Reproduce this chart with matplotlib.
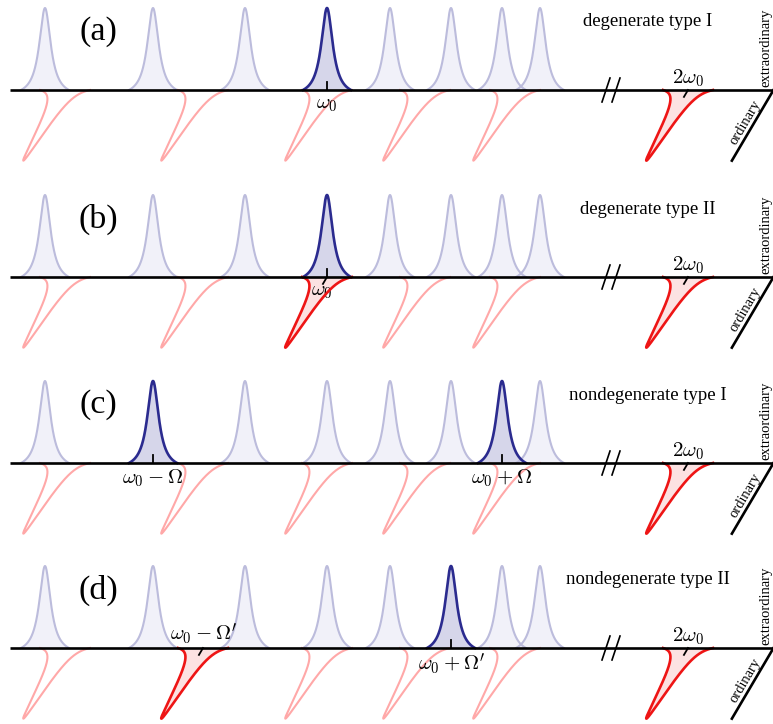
import numpy as np
import matplotlib
matplotlib.use("Agg")
import matplotlib.pyplot as plt

plt.rcParams['mathtext.fontset'] = 'cm'
SERIF = ['Liberation Serif', 'DejaVu Serif']

# Cavity mode frequencies (arbitrary units along the frequency axis)
extraordinary_modes = [45, 153, 245, 327, 390, 451, 502, 540]
ordinary_modes = [65, 203, 327, 425, 515]
second_harmonic = 688

panel_tags = ['(a)', '(b)', '(c)', '(d)']
panel_titles = ['degenerate type I', 'degenerate type II',
                'nondegenerate type I', 'nondegenerate type II']
# indices of the modes that take part in the process in each panel
active_e = [[3], [3], [1, 6], [5]]
active_o = [[], [2], [], [1]]
# (label, polarisation, mode index, side of the axis)
mode_labels = [
    [(r'$\omega_0$', 'e', 3, 'below')],
    [(r'$\omega_0$', 'e', 3, 'below')],
    [(r'$\omega_0-\Omega$', 'e', 1, 'below'), (r'$\omega_0+\Omega$', 'e', 6, 'below')],
    [(r'$\omega_0-\Omega^{\prime}$', 'o', 1, 'above'), (r'$\omega_0+\Omega^{\prime}$', 'e', 5, 'below')],
]

# drawing geometry (pixel-like units)
W, H = 773, 724
baselines = [90, 277, 463, 648]
ABOVE, BELOW = 92, 94
AMP = 82.0                 # peak amplitude along each polarisation axis
GAMMA_E, HALF_E = 7.0, 24.0
GAMMA_O, HALF_O = 5.5, 25.0
THETA = np.deg2rad(59.5)   # direction of the ordinary axis (drawn obliquely)
CT, ST = np.cos(THETA), np.sin(THETA)

PALE_E, PALE_E_FILL = '#bcbcdc', '#ededf7'
DARK_E, DARK_E_FILL = '#2b2b8f', '#d6d6ea'
PALE_O = '#ffa8a8'
DARK_O, DARK_O_FILL = '#ee1515', '#fce2e2'
FS_MATH = 15


def profile(u, gamma, half):
    lor = gamma**2 / (u**2 + gamma**2)
    base = gamma**2 / (half**2 + gamma**2)
    return (lor - base) / (1 - base)


ue = np.linspace(-HALF_E, HALF_E, 600)
pe = profile(ue, GAMMA_E, HALF_E)
uo = np.linspace(-HALF_O, HALF_O, 600)
po = profile(uo, GAMMA_O, HALF_O)

fig = plt.figure(figsize=(W / 100, H / 100), dpi=100)

for k, b in enumerate(baselines):
    ax = fig.add_axes([0, (H - (b + BELOW)) / H, 1, (ABOVE + BELOW) / H])
    ax.set_xlim(0, W)
    ax.set_ylim(-BELOW, ABOVE)
    ax.axis('off')

    # extraordinary modes: upright peaks
    for i, f0 in enumerate(extraordinary_modes):
        x = f0 + ue
        y = AMP * pe
        if i in active_e[k]:
            ax.fill(x, y, color=DARK_E_FILL, lw=0, zorder=2)
            ax.plot(x, y, color=DARK_E, lw=1.9, zorder=4)
        else:
            ax.fill(x, y, color=PALE_E_FILL, alpha=0.75, lw=0, zorder=1)
            ax.plot(x, y, color=PALE_E, lw=1.5, zorder=3)

    # ordinary modes: peaks along the oblique axis
    o_freqs = list(ordinary_modes) + [second_harmonic]
    for i, f0 in enumerate(o_freqs):
        x = f0 + uo - AMP * po * CT
        y = -AMP * po * ST
        active = (i in active_o[k]) or (f0 == second_harmonic)
        if active:
            ax.fill(x, y, color=DARK_O_FILL, lw=0, zorder=2)
            ax.plot(x, y, color=DARK_O, lw=1.9, zorder=4)
            ax.plot([f0, f0 - 8 * CT], [0, -8 * ST], color='black', lw=1.3, zorder=6)
        else:
            ax.plot(x, y, color=PALE_O, lw=1.5, zorder=3)

    for i in active_e[k]:
        f0 = extraordinary_modes[i]
        ax.plot([f0, f0], [0, 8], color='black', lw=1.3, zorder=6)

    # frequency axis with a break
    ax.plot([10, W + 2], [0, 0], color='black', lw=1.9, zorder=5, solid_capstyle='butt')
    for xb in (606, 616):
        ax.plot([xb - 4, xb + 4], [-12, 12], color='black', lw=1.2, zorder=6)

    # polarisation axes
    ax.plot([W + 0.5, W + 0.5 - AMP * CT], [0, -AMP * ST], color='black', lw=1.9,
            zorder=6, clip_on=False)
    ax.text(765.5, 3, 'extraordinary', rotation=90, ha='center', va='bottom',
            family=SERIF, fontsize=10.5)
    ax.text(745, -32, 'ordinary', rotation=np.rad2deg(THETA), ha='center', va='center',
            family=SERIF, fontsize=10.5, rotation_mode='anchor')

    # labels
    ax.text(98, 58, panel_tags[k], ha='center', va='center', family=SERIF, fontsize=24.5)
    ax.text(648, 68, panel_titles[k], ha='center', va='center', family=SERIF, fontsize=13.5)
    ax.text(second_harmonic, 1, r'$2\omega_0$', ha='center', va='bottom', fontsize=FS_MATH)

    for text, pol, idx, side in mode_labels[k]:
        f0 = extraordinary_modes[idx] if pol == 'e' else ordinary_modes[idx]
        if k == 1:
            f0 -= 5
        if side == 'below':
            ax.text(f0, -4, text, ha='center', va='top', fontsize=FS_MATH)
        else:
            ax.text(f0, 1, text, ha='center', va='bottom', fontsize=FS_MATH)

fig.savefig('out.png', dpi=100)
